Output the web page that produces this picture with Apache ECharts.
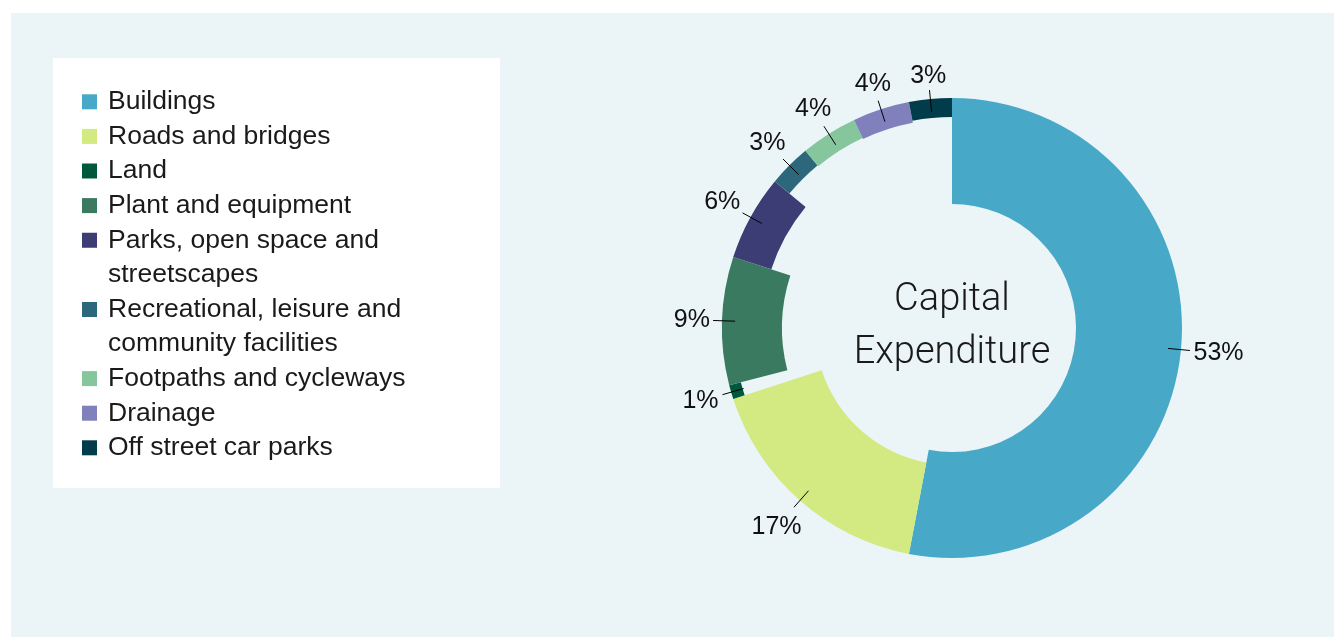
<!DOCTYPE html>
<html>
<head>
<meta charset="utf-8">
<script src="https://cdn.jsdelivr.net/npm/echarts@6/dist/echarts.min.js"></script>
<style>
html,body{margin:0;padding:0;background:#ffffff;}
#chart{width:1334px;height:637px;}
</style>
</head>
<body>
<div id="chart"></div>
<script>
// ---- data ----
const categories = [
  'Buildings',
  'Roads and bridges',
  'Land',
  'Plant and equipment',
  'Parks, open space and\nstreetscapes',
  'Recreational, leisure and\ncommunity facilities',
  'Footpaths and cycleways',
  'Drainage',
  'Off street car parks'
];
const values = [53, 17, 1, 9, 6, 3, 4, 4, 3];
const centerTitle = 'Capital\nExpenditure';

// ---- styles ----
const colors = ['#47A8C8', '#D3E981', '#00583C', '#3A7A60', '#3B3D74', '#2C677B', '#86C69D', '#7F80BC', '#003C49'];
const innerRadii = [124, 137, 218, 170, 190, 211, 210, 209, 211];
const OUTER = 230;
const CENTER = [952, 328];
const FONT = 'Liberation Sans, Arial, Helvetica, sans-serif';
const LABEL_SIZE = 25;

const chart = echarts.init(document.getElementById('chart'), null, {renderer: 'canvas'});

const ringSeries = categories.map(function (name, i) {
  return {
    type: 'pie',
    name: 'ring' + i,
    center: CENTER,
    radius: [innerRadii[i], OUTER],
    startAngle: 90,
    clockwise: true,
    silent: true,
    animation: false,
    label: {show: false},
    labelLine: {show: false},
    emphasis: {disabled: true},
    itemStyle: {borderWidth: 0},
    z: 2,
    data: categories.map(function (c, j) {
      return {name: c, value: values[j], itemStyle: {color: j === i ? colors[i] : 'rgba(0,0,0,0)'}};
    })
  };
});

const labelSeries = {
  type: 'pie',
  name: 'labels',
  center: CENTER,
  radius: [0, 217],
  startAngle: 90,
  clockwise: true,
  silent: true,
  animation: false,
  avoidLabelOverlap: false,
  emphasis: {disabled: true},
  itemStyle: {color: 'rgba(0,0,0,0)', borderWidth: 0},
  z: 3,
  label: {
    show: true,
    position: 'outside',
    formatter: function (p) { return p.value + '%'; },
    fontFamily: FONT,
    fontSize: LABEL_SIZE,
    color: '#111111'
  },
  labelLine: {
    show: true,
    length: 22,
    length2: 0,
    smooth: false,
    lineStyle: {color: '#000000', width: 1}
  },
  labelLayout: function (p) {
    const pts = p.labelLinePoints;
    if (!pts) { return {}; }
    const a = pts[0], b = pts[1];
    let dx = b[0] - a[0], dy = b[1] - a[1];
    const len = Math.hypot(dx, dy) || 1;
    dx /= len; dy /= len;
    const w = p.labelRect.width, h = LABEL_SIZE * 0.72;
    const d = 3 + (w / 2) * Math.abs(dx) + (h / 2) * Math.abs(dy);
    return {
      x: b[0] + dx * d,
      y: b[1] + dy * d,
      align: 'center',
      verticalAlign: 'middle',
      labelLinePoints: pts
    };
  },
  data: categories.map(function (c, j) { return {name: c, value: values[j]}; })
};

const iconSingle = 'path://M0,0H15V15H0Z';
const iconDouble = 'path://M0,0H15V15H0Z M7.5,15L7.5,49.6';

const option = {
  backgroundColor: '#ffffff',
  animation: false,
  graphic: [
    {type: 'rect', z: -10, silent: true, shape: {x: 11, y: 13, width: 1323, height: 624}, style: {fill: '#EBF5F8'}},
    {type: 'rect', z: -9, silent: true, shape: {x: 53, y: 58, width: 447, height: 430}, style: {fill: '#ffffff'}},
    {type: 'text', z: 10, silent: true, x: CENTER[0], y: 327,
      style: {text: centerTitle, align: 'center', verticalAlign: 'middle', font: '300 38px Roboto, "Noto Sans", sans-serif', lineHeight: 53, fill: '#1a1a1a'}}
  ],
  legend: {
    orient: 'vertical',
    left: 82,
    top: 84.5,
    padding: 0,
    itemGap: 0,
    itemWidth: 15,
    itemHeight: 69.2,
    symbolKeepAspect: true,
    selectedMode: false,
    textStyle: {fontFamily: FONT, fontSize: 26.5, color: '#1a1a1a', lineHeight: 34.6, padding: [0, 0, 0, 6]},
    data: categories.map(function (c, i) {
      return {name: c, icon: c.indexOf('\n') >= 0 ? iconDouble : iconSingle, itemStyle: {color: colors[i], opacity: 1}};
    })
  },
  series: ringSeries.concat([labelSeries])
};

chart.setOption(option);
</script>
</body>
</html>
